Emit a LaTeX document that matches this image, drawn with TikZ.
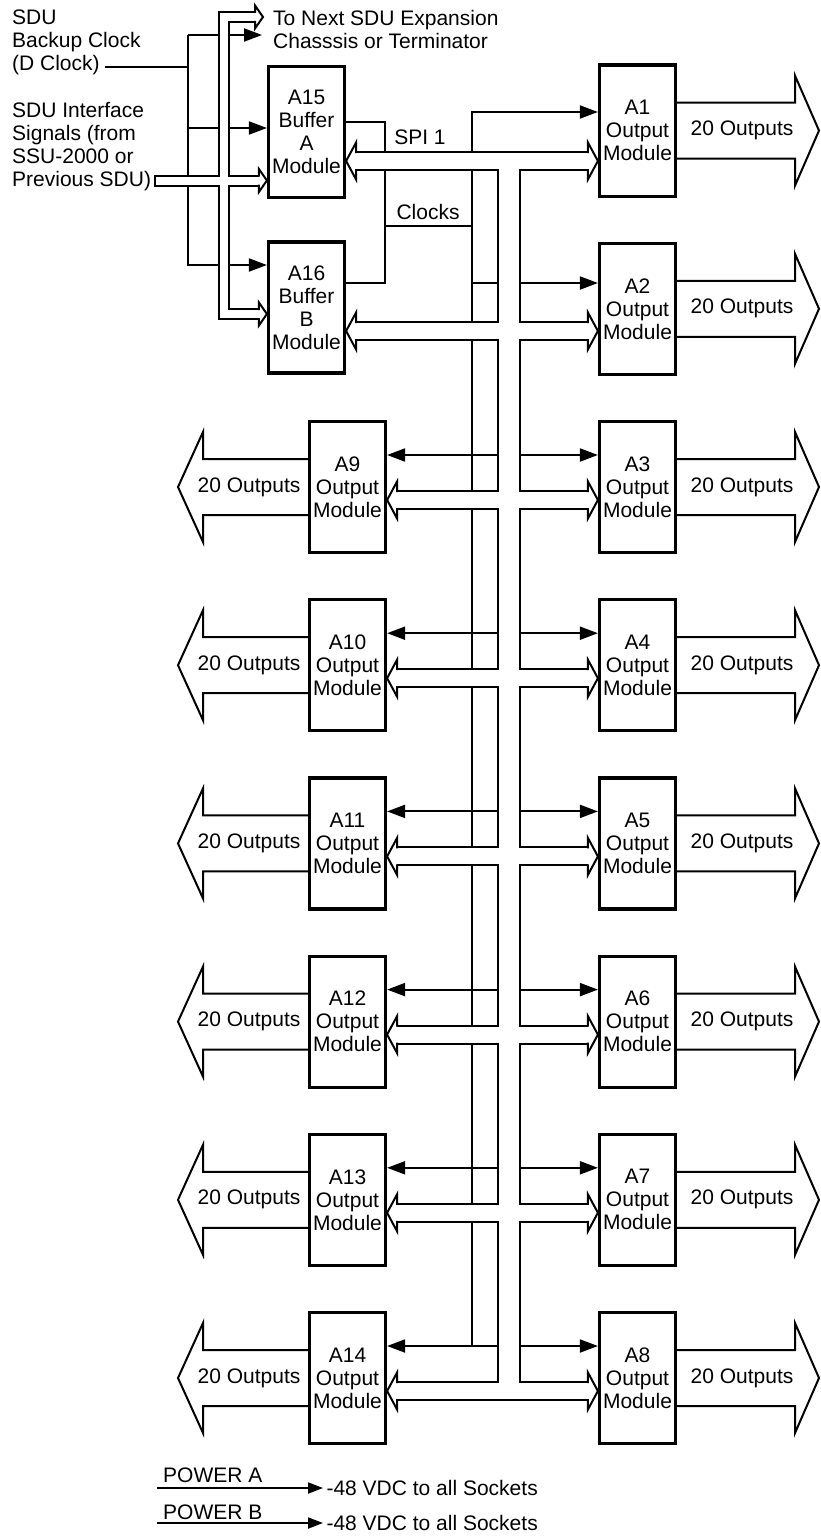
\documentclass[tikz,border=0pt]{standalone}
\usepackage{fontspec}
\setmainfont{Liberation Sans}
\usetikzlibrary{arrows.meta,calc}

\newcommand{\dfont}{\fontsize{21}{23}\selectfont}
% hollow bus head: tip, angle, half shaft, half head, head length
\newcommand{\openhead}[5]{%
  \begin{scope}[shift={#1},rotate=#2]
    \fill[white] (-#5,-#3) -- (-#5,-#4) -- (0,0) -- (-#5,#4) -- (-#5,#3) -- cycle;
    \draw[sig] (-#5-1,-#3) -- (-#5,-#3) -- (-#5,-#4) -- (0,0) -- (-#5,#4) -- (-#5,#3) -- (-#5-1,#3);
  \end{scope}}

\begin{document}
\begin{tikzpicture}[x=1pt,y=-1pt,font=\dfont,line join=miter,
module/.style={draw, line width=3.2pt, minimum width=76pt, minimum height=131pt, align=center, inner sep=0pt},
sig/.style={line width=2pt},
clk/.style={sig, -{Triangle[length=18pt,width=13pt]}},
pwr/.style={sig, -{Triangle[length=15pt,width=11pt]}},
txt/.style={anchor=north west, align=left, inner sep=0pt},
]
\useasboundingbox (0,0) rectangle (821,1536);

% modules and outputs
\node[module] (A15) at (306.5,132) {A15\\Buffer\\A\\Module};
\node[module] (A16) at (306.5,307.5) {A16\\Buffer\\B\\Module};
\foreach \k in {0,...,7} {
  \pgfmathtruncatemacro\rmod{\k+1}
  \pgfmathsetmacro\cy{130.6+178.2*\k}
  \node[module] (A\rmod) at (637.5,\cy) {A\rmod\\Output\\Module};
  \draw[sig] ([yshift=28pt]A\rmod.east) -- (795,{\cy-28}) -- (795,{\cy-55}) -- (819,\cy)
    -- (795,{\cy+55}) -- (795,{\cy+28}) -- ([yshift=-28pt]A\rmod.east);
  \node (out\rmod) at (742,\cy) {20 Outputs};
}
\foreach \k in {2,...,7} {
  \pgfmathtruncatemacro\lmod{\k+7}
  \pgfmathsetmacro\cy{130.6+178.2*\k}
  \node[module] (A\lmod) at (347.5,\cy) {A\lmod\\Output\\Module};
  \draw[sig] ([yshift=28pt]A\lmod.west) -- (203,{\cy-28}) -- (203,{\cy-55}) -- (178,\cy)
    -- (203,{\cy+55}) -- (203,{\cy+28}) -- ([yshift=-28pt]A\lmod.west);
  \node (out\lmod) at (249,\cy) {20 Outputs};
}

% inputs
\node[txt] (sdu) at (12,10) {SDU\\Backup Clock\\(D Clock)};
\node[txt] (sduif) at (12,102) {SDU Interface\\Signals (from\\SSU-2000 or\\Previous SDU)};
\node[txt] (next) at (273,10) {To Next SDU Expansion\\Chasssis or Terminator};

\coordinate (dclk) at (105,67);
\coordinate (dtop) at (188,35);
\coordinate (nxtclk) at (262,35);
\coordinate (ck15) at ([yshift=4pt]A15.west);
\coordinate (ck16) at ([yshift=42.5pt]A16.west);
\draw[sig] (dclk) -- (dclk -| dtop);
\draw[clk] (dtop) -- (nxtclk);
\draw[clk] (dtop) |- (ck16);
\draw[clk] (ck15 -| dtop) -- (ck15);

\coordinate (ifin) at (155,180.5);
\coordinate (iftop) at (224,17);
\coordinate (ifdn) at (224,314);
\coordinate (ifnext) at (263,17);
\coordinate (ih15) at (ifin -| A15.west);
\coordinate (ih16) at (ifdn -| A16.west);
\foreach \col/\lw/\sx in {black/12pt/-1,white/8pt/1} {
  \draw[\col,line width=\lw] ($(ifin)+(\sx,0)$) -- ($(ih15)+(-8,0)$)
    ($(ifnext)+(-8,0)$) -- (iftop) -- (ifdn) -- ($(ih16)+(-8,0)$);
}
\openhead{(ifnext)}{0}{5}{11.5}{8}
\openhead{(ih15)}{0}{5}{11.5}{8}
\openhead{(ih16)}{0}{5}{11.5}{8}

% clocks
\coordinate (cktop) at (472,112);
\coordinate (cj) at (385,226);
\draw[sig] ([yshift=10pt]A15.east) -| (cj) |- ([yshift=24.5pt]A16.east);
\draw[sig] (cj) -- (cj -| cktop);
\coordinate (c1) at (472,283);
\draw[clk] (c1) -- (c1 -| A2.west);
\foreach \k in {2,...,7} {
  \pgfmathtruncatemacro\lmod{\k+7}
  \pgfmathtruncatemacro\rmod{\k+1}
  \coordinate (c\k) at (472,{130.6+178.2*\k-32});
  \draw[clk] (c\k) -- (c\k -| A\rmod.west);
  \draw[clk] (c\k) -- (c\k -| A\lmod.east);
}
\draw[clk] (c7) -- (cktop) -- (cktop -| A1.west);

% SPI bus
\coordinate (t0) at (509,161);
\coordinate (t1) at (509,331);
\foreach \k in {2,...,7} \coordinate (t\k) at (509,{130.6+178.2*\k+13});
\foreach \col/\tw/\sw in {black/24pt/20pt,white/20pt/16pt} {
  \draw[\col,line width=\tw] (t0) -- (t7);
  \draw[\col,line width=\sw] ($(t0 -| A15.east)+(10,0)$) -- ($(t0 -| A1.west)+(-10,0)$)
    ($(t1 -| A16.east)+(10,0)$) -- ($(t1 -| A2.west)+(-10,0)$);
  \foreach \k in {2,...,7} {
    \pgfmathtruncatemacro\lmod{\k+7}
    \pgfmathtruncatemacro\rmod{\k+1}
    \draw[\col,line width=\sw] ($(t\k -| A\lmod.east)+(10,0)$) -- ($(t\k -| A\rmod.west)+(-10,0)$);
  }
}
\openhead{(t0 -| A1.west)}{0}{9}{18.5}{10}
\openhead{(t0 -| A15.east)}{180}{9}{18.5}{10}
\openhead{(t1 -| A2.west)}{0}{9}{18.5}{10}
\openhead{(t1 -| A16.east)}{180}{9}{18.5}{10}
\foreach \k in {2,...,7} {
  \pgfmathtruncatemacro\lmod{\k+7}
  \pgfmathtruncatemacro\rmod{\k+1}
  \openhead{(t\k -| A\rmod.west)}{0}{9}{18.5}{10}
  \openhead{(t\k -| A\lmod.east)}{180}{9}{18.5}{10}
}
\node[anchor=base] (spi) at (420,145) {SPI 1};
\node[anchor=base] (clks) at (428,219) {Clocks};

% power
\node[anchor=base west, inner sep=0pt] (pwa) at (163,1482) {POWER A};
\node[anchor=base west, inner sep=0pt] (pwb) at (163,1519) {POWER B};
\coordinate (pa) at (157,1488);
\coordinate (pb) at (157,1523);
\node[anchor=west] (vdca) at (323,1488) {-48 VDC to all Sockets};
\node[anchor=west] (vdcb) at (323,1523) {-48 VDC to all Sockets};
\draw[pwr] (pa) -- (vdca.west);
\draw[pwr] (pb) -- (vdcb.west);
\end{tikzpicture}
\end{document}
